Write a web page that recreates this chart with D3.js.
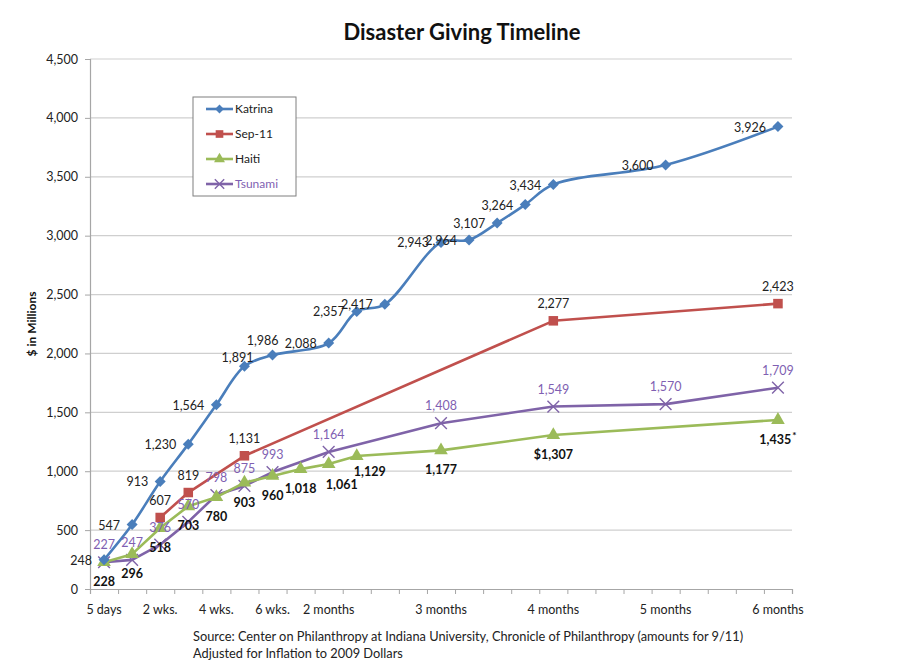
<!DOCTYPE html>
<html>
<head>
<meta charset="utf-8">
<script src="https://cdn.jsdelivr.net/npm/d3@7"></script>
<style>
  html, body { margin: 0; padding: 0; background: #fff; }
  svg { display: block; font-family: Lato, "Open Sans", sans-serif; }
</style>
</head>
<body>
<svg id="chart" width="911" height="668"></svg>
<script>
// Timeline categories (one slot per week-ish step); blank strings are unlabeled slots
const categories = ["5 days", "", "2 wks.", "", "4 wks.", "", "6 wks.", "", "2 months",
  "", "", "", "3 months", "", "", "", "4 months", "", "", "", "5 months", "", "", "", "6 months"];

// Cumulative giving, $ millions (null = no reading at that step)
const katrina = [248, 547, 913, 1230, 1564, 1891, 1986, null, 2088, 2357, 2417, null, 2943, 2964,
  3107, 3264, 3434, null, null, null, 3600, null, null, null, 3926];
const sep11 = [null, null, 607, 819, null, 1131, null, null, null, null, null, null, null, null,
  null, null, 2277, null, null, null, null, null, null, null, 2423];
const haiti = [228, 296, 518, 703, 780, 903, 960, 1018, 1061, 1129, null, null, 1177, null,
  null, null, 1307, null, null, null, null, null, null, null, 1435];
const tsunami = [227, 247, 376, 570, 798, 875, 993, null, 1164, null, null, null, 1408, null,
  null, null, 1549, null, null, null, 1570, null, null, null, 1709];

const seriesNames = ["Katrina", "Sep-11", "Haiti", "Tsunami"];
const yTicks = [0, 500, 1000, 1500, 2000, 2500, 3000, 3500, 4000, 4500];

const titleText = "Disaster Giving Timeline";
const yTitle = "$ in Millions";
const sourceLines = [
  "Source: Center on Philanthropy at Indiana University, Chronicle of Philanthropy (amounts for 9/11)",
  "Adjusted for Inflation to 2009 Dollars"
];

// ---- styling / layout ----
const colors = { "Katrina": "#4a7ebb", "Sep-11": "#c0504d", "Haiti": "#9bbb59", "Tsunami": "#7f63a8" };
const smoothed = { "Katrina": true, "Sep-11": false, "Haiti": false, "Tsunami": false };
const margin = { left: 90, right: 119, top: 59, bottom: 79 };
const W = 911, H = 668;
const plotW = W - margin.left - margin.right;
const plotH = H - margin.top - margin.bottom;

const svg = d3.select("#chart");

const xBand = d3.scaleBand().domain(d3.range(categories.length)).range([margin.left, margin.left + plotW]).padding(0);
const xEdge = d3.scaleLinear().domain([0, categories.length]).range([margin.left, margin.left + plotW]);
const y = d3.scaleLinear().domain([0, 4500]).range([margin.top + plotH, margin.top]);
const cx = i => xBand(i) + xBand.bandwidth() / 2;

// gridlines
svg.append("g").selectAll("line").data(yTicks.filter(t => t > 0)).join("line")
  .attr("x1", margin.left).attr("x2", margin.left + plotW)
  .attr("y1", d => y(d)).attr("y2", d => y(d))
  .attr("stroke", "#cfcfcf").attr("stroke-width", 1.2);

// y axis
const yAxis = svg.append("g").attr("transform", `translate(${margin.left},0)`)
  .call(d3.axisLeft(y).tickValues(yTicks).tickFormat(d3.format(",")).tickSize(5).tickPadding(7));
yAxis.select(".domain").attr("stroke", "#a6a6a6").attr("stroke-width", 1.2);
yAxis.selectAll(".tick line").attr("stroke", "#a6a6a6");
yAxis.selectAll("text").attr("font-size", 12.5).attr("fill", "#222").attr("font-family", "Lato, sans-serif");

// x axis: tick marks on category boundaries, labels centered in categories
const xTicks = svg.append("g").attr("transform", `translate(0,${margin.top + plotH})`)
  .call(d3.axisBottom(xEdge).tickValues(d3.range(categories.length + 1)).tickFormat("").tickSize(5));
xTicks.select(".domain").attr("stroke", "#a6a6a6").attr("stroke-width", 1.2);
xTicks.selectAll(".tick line").attr("stroke", "#a6a6a6");

const xLabels = svg.append("g").attr("transform", `translate(0,${margin.top + plotH})`)
  .call(d3.axisBottom(xBand).tickFormat(i => categories[i]).tickSize(0).tickPadding(16));
xLabels.select(".domain").remove();
xLabels.selectAll("text").attr("font-size", 12.5).attr("fill", "#222").attr("font-family", "Lato, sans-serif");

// titles
svg.append("text").attr("x", 462).attr("y", 40).attr("text-anchor", "middle")
  .attr("font-size", 22).attr("font-weight", "bold").attr("fill", "#111").text(titleText);
svg.append("text").attr("transform", `translate(36,${y(2250)}) rotate(-90)`).attr("text-anchor", "middle")
  .attr("font-size", 12).attr("font-weight", "bold").attr("fill", "#111").text(yTitle);
svg.append("g").selectAll("text").data(sourceLines).join("text")
  .attr("x", 193).attr("y", (d, i) => 641 + i * 17)
  .attr("font-size", 12.8).attr("fill", "#222").text(d => d);

// ---- series ----
const seriesData = [katrina, sep11, haiti, tsunami];

function lineFor(name) {
  return d3.line()
    .x(d => cx(d.i)).y(d => y(d.v))
    .curve(smoothed[name] ? d3.curveCatmullRom.alpha(0.5) : d3.curveLinear);
}

function markerPath(name, size) {
  if (name === "Katrina") return d3.symbol(d3.symbolDiamond2, size * 1.1)();
  if (name === "Sep-11") return d3.symbol(d3.symbolSquare, size * 1.3)();
  if (name === "Haiti") return d3.symbol(d3.symbolTriangle, size * 1.15)();
  return d3.symbol(d3.symbolX, size * 1.3)();
}

// draw order: Tsunami, Haiti, Sep-11, Katrina (Katrina on top)
const order = [3, 2, 1, 0];
order.forEach(k => {
  const name = seriesNames[k];
  const pts = seriesData[k].map((v, i) => ({ i, v })).filter(d => d.v != null);
  svg.append("path").datum(pts).attr("d", lineFor(name))
    .attr("fill", "none").attr("stroke", colors[name]).attr("stroke-width", 2.6)
    .attr("stroke-linejoin", "round");
  const m = svg.append("g").selectAll("path").data(pts).join("path")
    .attr("transform", d => `translate(${cx(d.i)},${y(d.v)})`)
    .attr("d", markerPath(name, 70));
  if (name === "Tsunami") {
    m.attr("fill", "none").attr("stroke", colors[name]).attr("stroke-width", 1.4);
  } else {
    m.attr("fill", colors[name]);
  }
});

// ---- data labels ----
const fmt = d3.format(",");
// default placement per series: [dx, dy, anchor]
const labelPlace = {
  "Katrina": [-12, 5, "end"],
  "Sep-11": [0, -13, "middle"],
  "Haiti": [0, 24, "middle"],
  "Tsunami": [0, -13, "middle"]
};
// individual nudges where labels would collide
const labelNudge = {
  "Katrina": { 5: [9, -4, "end"], 6: [6, -10, "end"] },
  "Haiti": { 8: [13, 25, "middle"], 9: [13, 20, "middle"] }
};
const labelPrefix = { "Haiti": { 16: "$" } };
const labelSuffix = { "Haiti": { 24: "*" } };
const labelStyle = {
  "Katrina": { fill: "#222", weight: "normal" },
  "Sep-11": { fill: "#222", weight: "normal" },
  "Haiti": { fill: "#111", weight: "bold" },
  "Tsunami": { fill: "#7f5fb2", weight: "normal" }
};

[0, 1, 3, 2].forEach(k => {
  const name = seriesNames[k];
  const pts = seriesData[k].map((v, i) => ({ i, v })).filter(d => d.v != null);
  const g = svg.append("g");
  pts.forEach(d => {
    const p = (labelNudge[name] && labelNudge[name][d.i]) || labelPlace[name];
    const t = g.append("text")
      .attr("x", cx(d.i) + p[0]).attr("y", y(d.v) + p[1])
      .attr("text-anchor", p[2])
      .attr("font-size", 12.5)
      .attr("font-weight", labelStyle[name].weight)
      .attr("fill", labelStyle[name].fill);
    const pre = (labelPrefix[name] && labelPrefix[name][d.i]) || "";
    t.append("tspan").text(pre + fmt(d.v));
    const suf = labelSuffix[name] && labelSuffix[name][d.i];
    if (suf) t.append("tspan").attr("dy", -5).attr("dx", 1).attr("font-size", 10).text(suf);
  });
});

// ---- legend ----
const legend = svg.append("g");
legend.append("rect").attr("x", 193).attr("y", 97).attr("width", 103).attr("height", 99)
  .attr("fill", "#fff").attr("stroke", "#7f7f7f").attr("stroke-width", 1);
const legendColors = { "Katrina": "#222", "Sep-11": "#222", "Haiti": "#222", "Tsunami": "#7f5fb2" };
seriesNames.forEach((name, i) => {
  const ly = 109 + i * 25;
  legend.append("line").attr("x1", 206).attr("x2", 233).attr("y1", ly).attr("y2", ly)
    .attr("stroke", colors[name]).attr("stroke-width", 2.6);
  const mk = legend.append("path").attr("transform", `translate(219.5,${ly})`).attr("d", markerPath(name, 45));
  if (name === "Tsunami") mk.attr("fill", "none").attr("stroke", colors[name]).attr("stroke-width", 1.4);
  else mk.attr("fill", colors[name]);
  legend.append("text").attr("x", 235).attr("y", ly + 4).attr("font-size", 12)
    .attr("fill", legendColors[name]).text(name);
});
</script>
</body>
</html>
